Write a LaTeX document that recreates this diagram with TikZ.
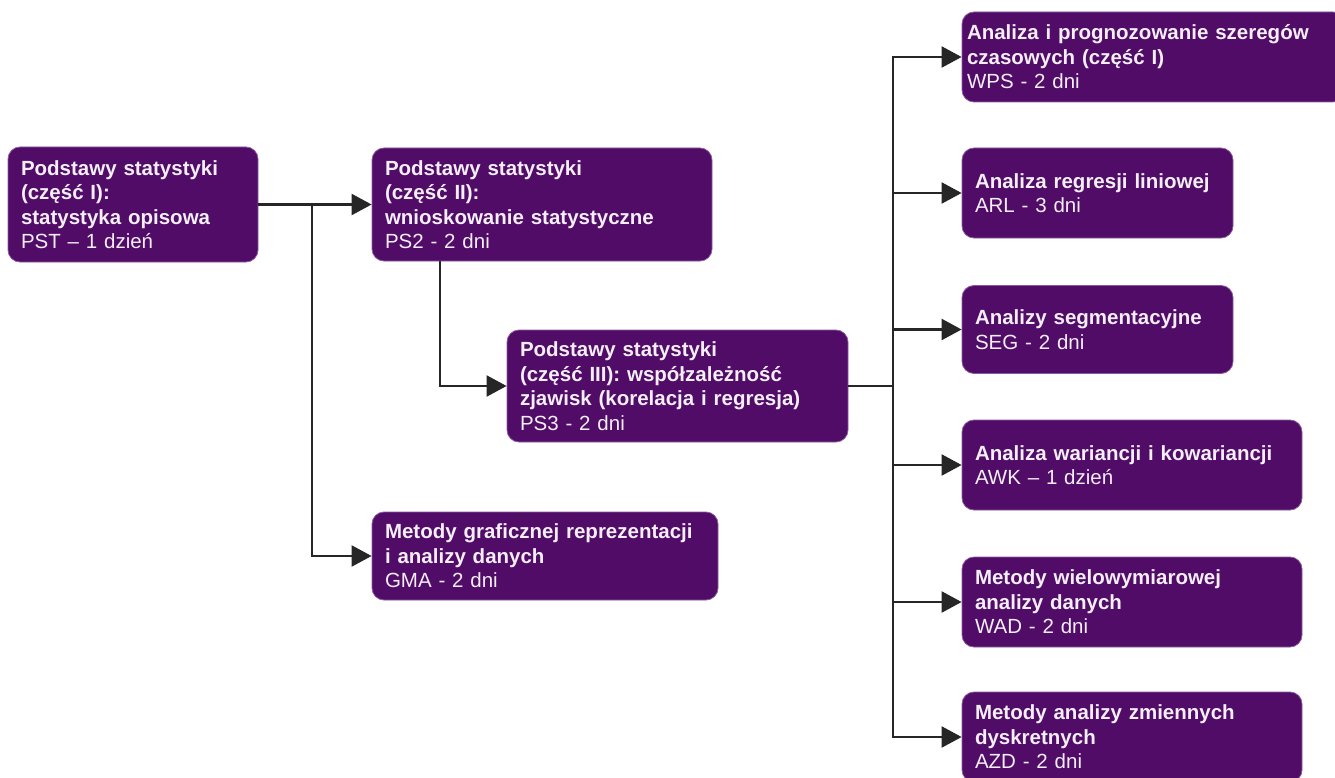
\documentclass[tikz,border=0pt]{standalone}
\usepackage{fontspec}
\setmainfont{Liberation Sans}
\usetikzlibrary{arrows.meta}
\definecolor{boxfill}{HTML}{510C68}
\definecolor{boxedge}{HTML}{8A5A9E}
\definecolor{boxtext}{HTML}{F4EEF7}
\tikzset{
  box/.style={draw=boxedge, line width=0.8pt, fill=boxfill, rounded corners=12pt,
    text=boxtext, align=left, inner xsep=13pt, inner ysep=3pt,
    font=\fontsize{20.5}{24.5}\selectfont, anchor=center},
  arr/.style={draw=black!85, line width=2.2pt, -{Triangle[length=20pt,width=21pt]}},
  link/.style={draw=black!85, line width=2.2pt}
}
\begin{document}
\begin{tikzpicture}[x=1pt,y=-1pt]
\useasboundingbox (0,0) rectangle (1335,778);
\begin{scope}
\clip (0,0) rectangle (1335,778);
\node[box, minimum width=250pt, minimum height=115pt, text width=224pt] (PST) at (133,204.5)
  {\textbf{Podstawy statystyki}\\\textbf{(część I):}\\\textbf{statystyka opisowa}\\PST – 1 dzień};
\node[box, minimum width=340pt, minimum height=113pt, text width=314pt] (PS2) at (542,204.5)
  {\textbf{Podstawy statystyki}\\\textbf{(część II):}\\\textbf{wnioskowanie statystyczne}\\PS2 - 2 dni};
\node[box, minimum width=341pt, minimum height=112pt, text width=315pt] (PS3) at (677.5,386)
  {\textbf{Podstawy statystyki}\\\textbf{(część III): współzależność}\\\textbf{zjawisk (korelacja i regresja)}\\PS3 - 2 dni};
\node[box, minimum width=346pt, minimum height=88pt, text width=320pt] (GMA) at (545,556)
  {\textbf{Metody graficznej reprezentacji}\\\textbf{i analizy danych}\\GMA - 2 dni};
\node[box, inner xsep=5pt, minimum width=383pt, minimum height=90pt, text width=373pt] (WPS) at (1153.5,57)
  {\textbf{Analiza i prognozowanie szeregów}\\\textbf{czasowych (część I)}\\WPS - 2 dni};
\node[box, minimum width=271pt, minimum height=90pt, text width=245pt] (ARL) at (1097.5,193)
  {\textbf{Analiza regresji liniowej}\\ARL - 3 dni};
\node[box, minimum width=271pt, minimum height=88pt, text width=245pt] (SEG) at (1097.5,329.5)
  {\textbf{Analizy segmentacyjne}\\SEG - 2 dni};
\node[box, minimum width=340pt, minimum height=90pt, text width=314pt] (AWK) at (1132,465)
  {\textbf{Analiza wariancji i kowariancji}\\AWK – 1 dzień};
\node[box, minimum width=340pt, minimum height=90pt, text width=314pt] (WAD) at (1132,602)
  {\textbf{Metody wielowymiarowej}\\\textbf{analizy danych}\\WAD - 2 dni};
\node[box, minimum width=340pt, minimum height=90pt, text width=314pt] (AZD) at (1132,737)
  {\textbf{Metody analizy zmiennych}\\\textbf{dyskretnych}\\AZD - 2 dni};
\end{scope}

\coordinate (j1) at (312,204.5);
\coordinate (p2b) at (440,0);
\coordinate (bus) at (893,386);

\draw[arr] (PST.east) -- (PS2.west);
\draw[arr] (j1) |- (GMA.west);
\draw[arr] (PS2.south -| p2b) |- (PS3.west);
\draw[link] (PS3.east) -- (bus);
\draw[arr] (bus) |- (WPS.west);
\draw[arr] (bus) |- (ARL.west);
\draw[arr] (bus) |- (SEG.west);
\draw[arr] (bus) |- (AWK.west);
\draw[arr] (bus) |- (WAD.west);
\draw[arr] (bus) |- (AZD.west);
\end{tikzpicture}
\end{document}
